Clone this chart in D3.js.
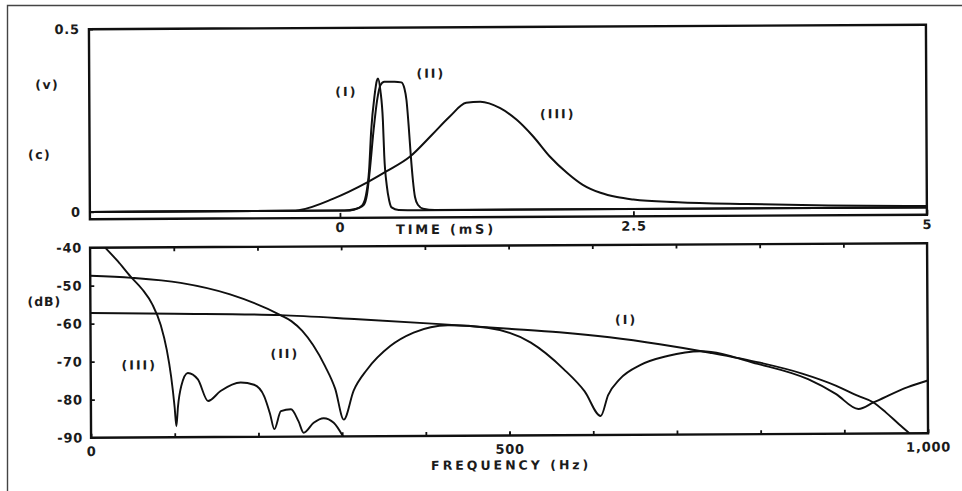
<!DOCTYPE html>
<html><head><meta charset="utf-8">
<script src="https://cdn.jsdelivr.net/npm/d3@7"></script>
<style>
html,body{margin:0;padding:0;background:#fff;}
svg{display:block;}
text{font-family:"DejaVu Sans",sans-serif;font-weight:bold;fill:#1b1b1b;}
</style></head><body>
<svg id="chart" width="962" height="491"></svg>
<script>
// ---- time-domain pulses (ms, V) ----
const pulseTimeI = [-2.13, 0.04, 0.13, 0.19, 0.22, 0.25, 0.27, 0.30, 0.32, 0.33, 0.35, 0.37, 0.38, 0.40, 0.42, 0.44, 0.50, 0.68, 5.0];
const pulseVoltI = [0, 0, 0.004, 0.014, 0.038, 0.109, 0.219, 0.314, 0.355, 0.361, 0.328, 0.246, 0.150, 0.068, 0.027, 0.008, 0.001, 0, 0];

const pulseTimeII = [-2.13, 0.085, 0.154, 0.205, 0.230, 0.256, 0.290, 0.324, 0.350, 0.384, 0.469, 0.529, 0.555, 0.572, 0.589, 0.606, 0.623, 0.640, 0.666, 0.708, 0.811, 5.0];
const pulseVoltII = [0, 0, 0.0055, 0.016, 0.041, 0.109, 0.219, 0.306, 0.342, 0.352, 0.352, 0.350, 0.333, 0.301, 0.232, 0.150, 0.082, 0.036, 0.014, 0.004, 0.0005, 0];

const pulseTimeIII = [-2.13, -0.40, -0.34, -0.06, 0.23, 0.40, 0.60, 0.79, 0.94, 1.08, 1.20, 1.37, 1.51, 1.65, 1.79, 1.94, 2.07, 2.22, 2.36, 2.50, 2.88, 3.47, 4.16, 5.0];
const pulseVoltIII = [0, 0, 0.002, 0.032, 0.076, 0.107, 0.147, 0.207, 0.256, 0.293, 0.296, 0.278, 0.246, 0.200, 0.145, 0.099, 0.067, 0.045, 0.033, 0.026, 0.018, 0.012, 0.007, 0.004];

// ---- spectra (Hz, dB) ----
const specFreqI = [0, 100, 227, 320, 418, 500, 560, 620, 680, 740, 800, 850, 890, 916, 935, 950, 965, 978];
const specDbI   = [-57.2, -57.5, -58.0, -59.2, -60.6, -61.9, -62.9, -64.3, -66.2, -68.5, -71.2, -74.1, -77.3, -80.0, -81.8, -84.5, -87.5, -90];

const specFreqII = [0, 50, 108, 167, 227, 240, 253, 266, 280, 292, 302, 314, 330, 358, 386, 427, 474, 526, 565, 590, 609, 618, 632, 657, 689, 729, 797, 857, 890, 917, 935, 976, 1000];
const specDbII   = [-47.4, -48.0, -49.4, -52.5, -58.0, -59.6, -62.2, -66.0, -71.5, -77.5, -85.6, -78.0, -72.5, -66.3, -62.8, -60.9, -61.6, -65.6, -72.6, -78.5, -85.0, -79.5, -75.3, -71.6, -69.3, -68.1, -71.5, -75.6, -79.5, -83.5, -81.8, -77.8, -76.1];

const specFreqIII = [18, 33, 48, 62, 74, 84, 91, 96, 100, 102, 104, 108, 116, 128, 140, 155, 179, 195, 207, 214, 219, 227, 239, 248, 254, 266, 278, 290, 301];
const specDbIII   = [-40, -43.6, -47.6, -51.0, -55.0, -60.5, -67.0, -74, -82, -87.1, -82, -76.6, -73.1, -74.8, -80.5, -77.9, -75.7, -76.3, -79.3, -84, -88, -83.3, -82.8, -86, -89, -86.4, -85.2, -86.4, -90];

// ---- axis labels ----
const voltTicks = [0.5, 0];
const voltTickLabels = ["0.5", "0"];
const timeTicks = [0, 2.5, 5];
const timeTickLabels = ["0", "2.5", "5"];
const dbTicks = [-40, -50, -60, -70, -80, -90];
const dbTickLabels = ["-40", "-50", "-60", "-70", "-80", "-90"];
const freqTicks = [0, 500, 1000];
const freqTickLabels = ["0", "500", "1,000"];
const freqMinorTicks = [100, 200, 300, 400, 500, 600, 700, 800, 900];
const curveNames = ["(I)", "(II)", "(III)"];

const svg = d3.select("#chart");
const ink = "#101010";

// page frame
svg.append("path").attr("d", "M7.5,491 L7.5,5.5 L962,5.5")
  .attr("fill", "none").attr("stroke", "#444").attr("stroke-width", 1.4);

const root = svg.append("g").attr("transform", "rotate(-0.3 508 232)");

const X0 = 90, X1 = 927;

// ---------- upper panel: pulses ----------
const tTop = 27, tBot = 217;
const xT = d3.scaleLinear().domain([-2.13, 5]).range([X0, X1]);
const yV = d3.scaleLinear().domain([-0.02, 0.5]).range([tBot, tTop]);

root.append("rect").attr("x", X0).attr("y", tTop).attr("width", X1 - X0).attr("height", tBot - tTop)
  .attr("fill", "none").attr("stroke", ink).attr("stroke-width", 2.4);

root.append("clipPath").attr("id", "clipTop")
  .append("rect").attr("x", X0).attr("y", tTop).attr("width", X1 - X0).attr("height", tBot - tTop);

const lineT = d3.line().x(d => xT(d[0])).y(d => yV(d[1])).curve(d3.curveMonotoneX);
[[pulseTimeI, pulseVoltI], [pulseTimeII, pulseVoltII], [pulseTimeIII, pulseVoltIII]].forEach(([t, v]) => {
  root.append("path").attr("clip-path", "url(#clipTop)")
    .attr("d", lineT(d3.zip(t, v)))
    .attr("fill", "none").attr("stroke", ink).attr("stroke-width", 2).attr("stroke-linejoin", "round");
});

root.append("g").attr("transform", `translate(${X0},0)`)
  .call(d3.axisLeft(yV).tickValues(voltTicks).tickSize(-4).tickPadding(9)
    .tickFormat((d, i) => voltTickLabels[i]));
root.append("g").attr("transform", `translate(0,${tBot})`)
  .call(d3.axisBottom(xT).tickValues(timeTicks).tickSize(-5).tickPadding(5)
    .tickFormat((d, i) => timeTickLabels[i]));

// ---------- lower panel: spectra ----------
const bTop = 245.5, bBot = 435.5;
const xF = d3.scaleLinear().domain([0, 1000]).range([X0, X1]);
const yD = d3.scaleLinear().domain([-90, -40]).range([bBot, bTop]);

root.append("rect").attr("x", X0).attr("y", bTop).attr("width", X1 - X0).attr("height", bBot - bTop)
  .attr("fill", "none").attr("stroke", ink).attr("stroke-width", 2.4);

root.append("clipPath").attr("id", "clipBot")
  .append("rect").attr("x", X0).attr("y", bTop).attr("width", X1 - X0).attr("height", bBot - bTop);

const lineF = d3.line().x(d => xF(d[0])).y(d => yD(d[1])).curve(d3.curveMonotoneX);
[[specFreqI, specDbI], [specFreqII, specDbII], [specFreqIII, specDbIII]].forEach(([f, db]) => {
  root.append("path").attr("clip-path", "url(#clipBot)")
    .attr("d", lineF(d3.zip(f, db)))
    .attr("fill", "none").attr("stroke", ink).attr("stroke-width", 1.9).attr("stroke-linejoin", "round");
});

root.append("g").attr("transform", `translate(${X0},0)`)
  .call(d3.axisLeft(yD).tickValues(dbTicks).tickSize(-4).tickPadding(8)
    .tickFormat((d, i) => dbTickLabels[i]));
root.append("g").attr("transform", `translate(0,${bBot})`)
  .call(d3.axisBottom(xF).tickValues(freqTicks).tickSize(-4).tickPadding(9)
    .tickFormat((d, i) => freqTickLabels[i]));
root.append("g").attr("transform", `translate(0,${bBot})`)
  .call(d3.axisBottom(xF).tickValues(freqMinorTicks).tickSize(-4).tickFormat(""));
root.append("g").attr("transform", `translate(0,${bTop})`)
  .call(d3.axisTop(xF).tickValues(freqMinorTicks).tickSize(-4).tickFormat(""));

// axis styling
root.selectAll(".domain").remove();
root.selectAll(".tick line").attr("stroke", ink).attr("stroke-width", 1.8);
root.selectAll(".tick text").attr("font-size", 13).attr("fill", ink)
  .attr("letter-spacing", 0.8)
  .style("font-family", '"DejaVu Sans", sans-serif').style("font-weight", "bold");

// titles and unit labels
const label = (x, y, txt, anchor = "middle", size = 12.5, spacing = 1) =>
  root.append("text").attr("x", x).attr("y", y).attr("text-anchor", anchor)
    .attr("dominant-baseline", "middle").attr("font-size", size)
    .attr("letter-spacing", spacing).text(txt);

label(48, 83, "(v)", "middle", 12.5, 1.5);
label(40, 153, "(c)", "middle", 12.5, 1.5);
label(446, 230, "TIME (mS)", "middle", 13, 2.8);
label(44, 300, "(dB)", "middle", 12.5, 1);
label(510, 466, "FREQUENCY (Hz)", "middle", 12.5, 3);

// curve identifiers, placed in data coordinates
label(xT(0.06), yV(0.323), curveNames[0], "middle", 12.5, 2);
label(xT(0.78), yV(0.372), curveNames[1], "middle", 12.5, 2);
label(xT(1.86), yV(0.259), curveNames[2], "middle", 12.5, 2);
label(xF(640), yD(-59.9), curveNames[0], "middle", 12.5, 2);
label(xF(232), yD(-68.4), curveNames[1], "middle", 12.5, 2);
label(xF(58), yD(-71.2), curveNames[2], "middle", 12.5, 2);
</script>
</body></html>
